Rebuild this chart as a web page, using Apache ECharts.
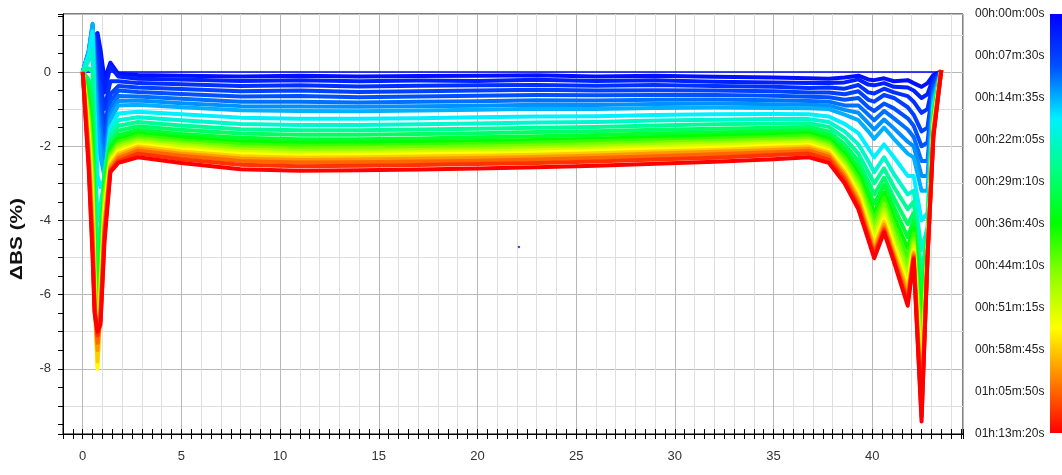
<!DOCTYPE html>
<html>
<head>
<meta charset="utf-8">
<script src="https://cdn.jsdelivr.net/npm/echarts@6.0.0/dist/echarts.min.js"></script>
<style>
  html, body { margin: 0; padding: 0; background: #fff; }
  #chart { width: 1062px; height: 475px; }
</style>
</head>
<body>
<div id="chart"></div>
<script>
// Sample height (mm) at which every backscattering profile is tabulated
const xPositions = [0, 0.3, 0.5, 0.6, 0.75, 0.9, 1.1, 1.4, 1.8,
  2.8, 5, 8, 11, 14, 17, 20, 23, 26, 29, 32, 35, 36.8,
  37.8, 38.6, 39.3, 39.8, 40.1, 40.6, 41.1, 41.8, 42.1, 42.5, 42.8, 43.1, 43.5];

// Scan times in seconds, one per profile below
const scanTimes = [0, 110, 220, 330, 440, 550, 660, 770, 880, 1100, 1320, 1540, 1760,
  1980, 2200, 2420, 2640, 2860, 3080, 3300, 3520, 3740, 3960, 4180, 4400];

// Delta backscattering (%) profiles, one array per scan
const scan0000 = [0, 0, 0, 0, 0, 0, 0, 0, 0,
  0, 0, 0, 0, 0, 0, 0, 0, 0, 0, 0, 0, 0,
  0, 0, 0, 0, 0, 0, 0, 0, 0, 0, 0, 0, 0];
const scan0110 = [0, 0.4, 0.8, 0.95, 1.05, 0.6, -0.2, 0.25, -0.05,
  -0.08, -0.1, -0.12, -0.1, -0.12, -0.11, -0.1, -0.09, -0.12, -0.1, -0.13, -0.15, -0.17,
  -0.18, -0.15, -0.1, -0.2, -0.22, -0.17, -0.25, -0.22, -0.3, -0.4, -0.3, -0.08, 0.02];
const scan0220 = [0, 0.45, 0.9, 1.0, 1.0, 0.35, -0.55, 0.15, -0.12,
  -0.18, -0.2, -0.24, -0.22, -0.25, -0.23, -0.24, -0.21, -0.24, -0.22, -0.26, -0.28, -0.3,
  -0.3, -0.28, -0.2, -0.34, -0.36, -0.3, -0.4, -0.42, -0.5, -0.7, -0.6, -0.15, 0.02];
const scan0330 = [0, 0.48, 1.05, 0.9, 0.4, -0.3, -1.0, -0.25, -0.25,
  -0.3, -0.33, -0.38, -0.36, -0.39, -0.37, -0.36, -0.35, -0.37, -0.35, -0.38, -0.4, -0.43,
  -0.42, -0.45, -0.35, -0.55, -0.58, -0.45, -0.55, -0.65, -0.8, -1.1, -1.0, -0.25, 0.03];
const scan0440 = [0, 0.5, 1.15, 0.8, -0.1, -0.6, -1.5, -0.6, -0.38,
  -0.42, -0.46, -0.52, -0.5, -0.54, -0.52, -0.5, -0.48, -0.5, -0.49, -0.5, -0.52, -0.55,
  -0.55, -0.6, -0.52, -0.75, -0.8, -0.62, -0.7, -0.95, -1.15, -1.6, -1.5, -0.35, 0.03];
const scan0550 = [0, 0.52, 1.2, 0.6, -0.45, -1.05, -1.85, -0.8, -0.5,
  -0.54, -0.59, -0.66, -0.65, -0.68, -0.66, -0.64, -0.62, -0.63, -0.62, -0.62, -0.64, -0.67,
  -0.68, -0.75, -0.7, -0.95, -1.05, -0.85, -0.98, -1.25, -1.45, -2.0, -1.9, -0.45, 0.03];
const scan0660 = [0, 0.55, 1.25, 0.4, -0.8, -1.5, -2.2, -1.0, -0.65,
  -0.66, -0.72, -0.8, -0.8, -0.82, -0.8, -0.79, -0.76, -0.77, -0.75, -0.74, -0.76, -0.78,
  -0.8, -0.9, -0.9, -1.15, -1.3, -1.05, -1.25, -1.55, -1.75, -2.4, -2.4, -0.55, 0.03];
const scan0770 = [0, 0.55, 1.28, 0.15, -1.2, -1.9, -2.5, -1.15, -0.78,
  -0.77, -0.84, -0.92, -0.93, -0.94, -0.92, -0.91, -0.88, -0.89, -0.86, -0.85, -0.87, -0.88,
  -0.9, -1.02, -1.1, -1.38, -1.55, -1.28, -1.52, -1.88, -2.0, -2.8, -2.8, -0.65, 0.04];
const scan0880 = [0, 0.55, 1.3, -0.1, -1.6, -2.3, -2.8, -1.3, -0.9,
  -0.88, -0.95, -1.03, -1.05, -1.06, -1.04, -1.02, -0.99, -1.0, -0.97, -0.96, -0.97, -0.98,
  -1.0, -1.15, -1.3, -1.6, -1.8, -1.5, -1.8, -2.2, -2.3, -3.2, -3.2, -0.75, 0.04];
const scan1100 = [0, 0.45, 1.1, -1.0, -2.8, -3.1, -2.9, -1.5, -1.12,
  -1.07, -1.14, -1.23, -1.26, -1.26, -1.25, -1.22, -1.2, -1.19, -1.16, -1.14, -1.13, -1.14,
  -1.2, -1.4, -1.65, -2.05, -2.3, -1.95, -2.3, -2.8, -2.8, -4.0, -3.8, -0.9, 0.04];
const scan1320 = [0, 0.3, 0.6, -2.0, -4.0, -3.6, -2.9, -1.65, -1.3,
  -1.22, -1.3, -1.4, -1.43, -1.43, -1.41, -1.39, -1.36, -1.35, -1.31, -1.29, -1.27, -1.27,
  -1.35, -1.6, -1.95, -2.4, -2.7, -2.3, -2.75, -3.3, -3.2, -4.8, -4.2, -1.0, 0.05];
const scan1540 = [0, 0.1, 0.0, -3.0, -5.2, -4.1, -2.7, -1.75, -1.45,
  -1.35, -1.44, -1.54, -1.57, -1.57, -1.55, -1.53, -1.5, -1.48, -1.44, -1.41, -1.39, -1.38,
  -1.48, -1.78, -2.2, -2.7, -3.0, -2.6, -3.1, -3.7, -3.5, -5.4, -4.4, -1.1, 0.05];
const scan1760 = [0, -0.2, -0.8, -3.8, -6.0, -4.5, -2.85, -1.88, -1.58,
  -1.46, -1.56, -1.66, -1.69, -1.69, -1.67, -1.65, -1.62, -1.6, -1.56, -1.53, -1.5, -1.48,
  -1.6, -1.95, -2.4, -2.95, -3.3, -2.85, -3.4, -4.1, -3.8, -5.9, -4.5, -1.15, 0.05];
const scan1980 = [0, -0.5, -1.5, -4.4, -6.7, -4.9, -3.0, -2.0, -1.7,
  -1.56, -1.67, -1.77, -1.81, -1.81, -1.79, -1.76, -1.73, -1.7, -1.66, -1.63, -1.59, -1.57,
  -1.7, -2.08, -2.58, -3.2, -3.55, -3.05, -3.65, -4.45, -4.0, -6.4, -4.6, -1.2, 0.05];
const scan2200 = [0, -0.8, -2.1, -4.8, -7.2, -5.2, -3.1, -2.1, -1.8,
  -1.65, -1.76, -1.87, -1.91, -1.9, -1.88, -1.86, -1.83, -1.8, -1.75, -1.72, -1.68, -1.65,
  -1.8, -2.2, -2.74, -3.4, -3.78, -3.25, -3.9, -4.75, -4.2, -6.9, -4.7, -1.25, 0.05];
const scan2420 = [0, -1.0, -2.5, -5.1, -7.5, -5.4, -3.25, -2.18, -1.88,
  -1.72, -1.84, -1.95, -1.99, -1.98, -1.96, -1.94, -1.9, -1.87, -1.83, -1.79, -1.75, -1.72,
  -1.87, -2.3, -2.87, -3.56, -3.97, -3.4, -4.1, -5.0, -4.35, -7.3, -4.75, -1.3, 0.05];
const scan2640 = [0, -1.2, -2.9, -5.4, -7.7, -5.6, -3.4, -2.25, -1.95,
  -1.79, -1.91, -2.02, -2.06, -2.05, -2.03, -2.01, -1.98, -1.94, -1.9, -1.86, -1.82, -1.79,
  -1.94, -2.4, -3.0, -3.72, -4.15, -3.55, -4.3, -5.25, -4.5, -7.7, -4.8, -1.35, 0.05];
const scan2860 = [0, -1.4, -3.2, -5.6, -7.8, -5.8, -3.55, -2.32, -2.02,
  -1.85, -1.97, -2.09, -2.13, -2.12, -2.1, -2.08, -2.05, -2.01, -1.96, -1.92, -1.88, -1.85,
  -2.0, -2.48, -3.1, -3.86, -4.3, -3.7, -4.45, -5.45, -4.6, -8.0, -4.85, -1.4, 0.05];
const scan3080 = [0, -1.6, -3.5, -5.8, -7.9, -6.0, -3.7, -2.38, -2.08,
  -1.91, -2.03, -2.15, -2.19, -2.18, -2.16, -2.14, -2.11, -2.07, -2.02, -1.98, -1.93, -1.9,
  -2.06, -2.56, -3.2, -3.98, -4.45, -3.82, -4.6, -5.6, -4.7, -8.3, -4.9, -1.45, 0.05];
const scan3300 = [0, -1.75, -3.8, -6.0, -8.0, -6.2, -3.85, -2.44, -2.14,
  -1.96, -2.09, -2.21, -2.25, -2.24, -2.22, -2.2, -2.17, -2.13, -2.08, -2.04, -1.99, -1.96,
  -2.12, -2.63, -3.3, -4.1, -4.58, -3.94, -4.72, -5.75, -4.8, -8.55, -4.92, -1.5, 0.05];
const scan3520 = [0, -1.9, -4.0, -6.1, -7.8, -6.3, -4.0, -2.5, -2.2,
  -2.01, -2.14, -2.27, -2.31, -2.3, -2.28, -2.26, -2.23, -2.19, -2.14, -2.1, -2.04, -2.01,
  -2.17, -2.7, -3.38, -4.2, -4.7, -4.04, -4.82, -5.9, -4.85, -8.8, -4.95, -1.55, 0.05];
const scan3740 = [0, -2.1, -4.3, -6.2, -7.5, -6.4, -4.15, -2.56, -2.26,
  -2.06, -2.2, -2.33, -2.37, -2.36, -2.34, -2.32, -2.29, -2.25, -2.2, -2.15, -2.1, -2.06,
  -2.22, -2.77, -3.46, -4.3, -4.8, -4.12, -4.92, -6.02, -4.9, -9.0, -4.97, -1.6, 0.05];
const scan3960 = [0, -2.3, -4.6, -6.3, -7.3, -6.6, -4.3, -2.62, -2.33,
  -2.12, -2.26, -2.4, -2.44, -2.43, -2.41, -2.39, -2.36, -2.32, -2.27, -2.22, -2.16, -2.12,
  -2.28, -2.84, -3.54, -4.38, -4.88, -4.2, -5.0, -6.12, -4.95, -9.15, -5.0, -1.65, 0.05];
const scan4180 = [0, -2.45, -4.8, -6.4, -7.1, -6.7, -4.45, -2.66, -2.4,
  -2.2, -2.35, -2.5, -2.54, -2.53, -2.51, -2.48, -2.45, -2.41, -2.36, -2.31, -2.24, -2.2,
  -2.36, -2.92, -3.62, -4.45, -4.95, -4.26, -5.06, -6.22, -5.0, -9.3, -5.0, -1.7, 0.05];
const scan4400 = [0, -2.6, -5.0, -6.5, -7.0, -6.8, -4.6, -2.7, -2.45,
  -2.3, -2.45, -2.62, -2.66, -2.65, -2.63, -2.6, -2.57, -2.53, -2.47, -2.42, -2.35, -2.3,
  -2.45, -3.0, -3.7, -4.52, -5.02, -4.32, -5.12, -6.3, -5.05, -9.42, -5.02, -1.75, 0.05];

// Isolated outlier reading (height mm, delta BS %)
const strayPoint = [22.1, -4.72];

// Colour-scale labels (scan time)
const timeLabels = ['00h:00m:00s', '00h:07m:30s', '00h:14m:35s', '00h:22m:05s',
  '00h:29m:10s', '00h:36m:40s', '00h:44m:10s', '00h:51m:15s', '00h:58m:45s',
  '01h:05m:50s', '01h:13m:20s'];

const scans = [scan0000, scan0110, scan0220, scan0330, scan0440, scan0550, scan0660,
  scan0770, scan0880, scan1100, scan1320, scan1540, scan1760, scan1980, scan2200,
  scan2420, scan2640, scan2860, scan3080, scan3300, scan3520, scan3740, scan3960,
  scan4180, scan4400];

// Rainbow time scale: blue (start) -> red (end)
const rampColours = ['#0000ff', '#0050ff', '#00f0ff', '#00ff80', '#00ff00',
  '#90ff00', '#ffff00', '#ff8000', '#ff0000'];
const totalTime = scanTimes[scanTimes.length - 1];

function hexToRgb(h) {
  return [parseInt(h.slice(1, 3), 16), parseInt(h.slice(3, 5), 16), parseInt(h.slice(5, 7), 16)];
}
function timeColour(t) {
  const p = Math.max(0, Math.min(1, t / totalTime)) * (rampColours.length - 1);
  const i = Math.min(Math.floor(p), rampColours.length - 2);
  const f = p - i;
  const a = hexToRgb(rampColours[i]);
  const b = hexToRgb(rampColours[i + 1]);
  const c = a.map((v, k) => Math.round(v + (b[k] - v) * f));
  return 'rgb(' + c.join(',') + ')';
}

const labelFont = "'Liberation Sans', Arial, sans-serif";
const gridLight = '#dedede';
const gridDark = '#b8b8b8';

const profileSeries = scans.map((vals, i) => ({
  type: 'line',
  name: 'scan' + scanTimes[i],
  data: xPositions.map((x, j) => [x, vals[j]]),
  symbol: 'none',
  showSymbol: false,
  silent: true,
  clip: true,
  lineStyle: { width: i === 0 ? 1.5 : 4, color: timeColour(scanTimes[i]), join: 'round' },
  itemStyle: { color: timeColour(scanTimes[i]) },
  z: 2
}));

profileSeries.push({
  type: 'scatter',
  data: [strayPoint],
  symbolSize: 2.5,
  silent: true,
  itemStyle: { color: timeColour(scanTimes[2]) },
  z: 3
});

const chart = echarts.init(document.getElementById('chart'), null, { renderer: 'canvas' });

chart.setOption({
  animation: false,
  backgroundColor: '#ffffff',
  grid: {
    left: 63, right: 99, top: 14, bottom: 41,
    show: true, borderColor: '#000', borderWidth: 1, backgroundColor: 'transparent'
  },
  xAxis: [
    {
      type: 'value', min: -1, max: 44.6, interval: 0.5,
      axisLine: { onZero: false, lineStyle: { color: '#000', width: 1 } },
      axisTick: { length: 5, lineStyle: { color: '#000' } },
      axisLabel: {
        margin: 16, color: '#333', fontSize: 13, fontFamily: labelFont,
        formatter: v => {
          const r = Math.round(v);
          return (Math.abs(v - r) < 1e-6 && r % 5 === 0) ? String(r) : '';
        }
      },
      splitLine: {
        show: true,
        lineStyle: { color: [gridLight, 'transparent', gridDark, 'transparent', gridLight,
          'transparent', gridLight, 'transparent', gridLight, 'transparent'] }
      }
    },
    {
      type: 'value', min: -1, max: 44.6, interval: 0.5, position: 'bottom',
      axisLine: { show: false, onZero: false },
      axisTick: { inside: true, length: 5, lineStyle: { color: '#000' } },
      axisLabel: { show: false },
      splitLine: { show: false }
    }
  ],
  yAxis: [
    {
      type: 'value', min: -9.757, max: 1.563, splitNumber: 22,
      minInterval: 0.5, maxInterval: 0.5,
      axisLine: { show: true, onZero: false, lineStyle: { color: '#000', width: 1 } },
      axisTick: { show: true, length: 5, lineStyle: { color: '#000' } },
      axisLabel: {
        margin: 12, color: '#333', fontSize: 13, fontFamily: labelFont,
        formatter: v => {
          const r = Math.round(v);
          return (Math.abs(v - r) < 1e-6 && r % 2 === 0) ? String(r) : '';
        }
      },
      splitLine: {
        show: true,
        lineStyle: { color: [gridDark, 'transparent', gridLight, 'transparent'] }
      }
    },
    {
      type: 'category', data: timeLabels, inverse: true, boundaryGap: false,
      position: 'right',
      axisLine: { show: false },
      axisTick: { show: false },
      splitLine: { show: false },
      axisLabel: { margin: 12, color: '#222', fontSize: 12, fontFamily: labelFont }
    }
  ],
  graphic: [
    {
      type: 'text',
      x: 17.5, y: 239,
      rotation: Math.PI / 2,
      scaleX: 1.3,
      style: {
        text: 'ΔBS (%)',
        font: "bold 16px 'Liberation Sans', Arial, sans-serif",
        fill: '#111',
        align: 'center',
        verticalAlign: 'middle'
      }
    },
    {
      type: 'rect',
      shape: { x: 1050, y: 14, width: 12, height: 419 },
      style: {
        fill: {
          type: 'linear', x: 0, y: 0, x2: 0, y2: 1,
          colorStops: rampColours.map((c, i) => ({ offset: i / (rampColours.length - 1), color: c }))
        }
      }
    }
  ],
  series: profileSeries
});
</script>
</body>
</html>
